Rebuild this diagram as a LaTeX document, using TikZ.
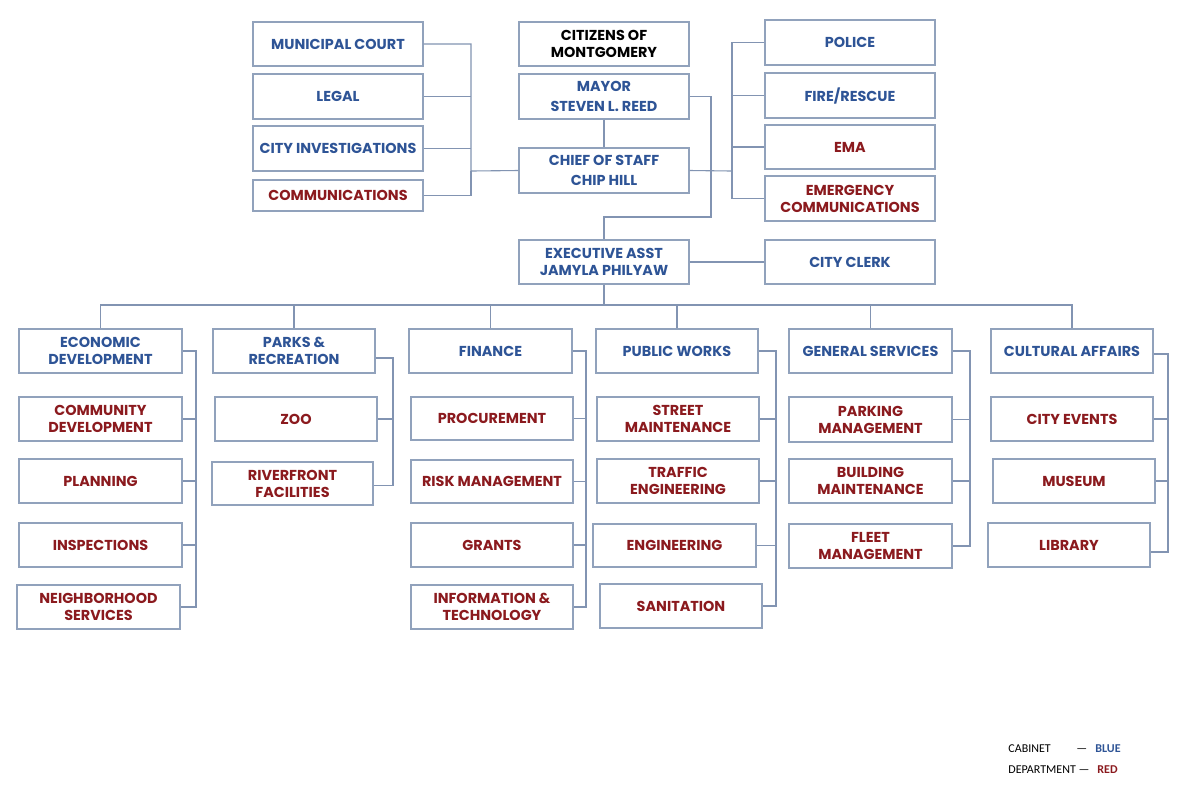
\documentclass[tikz,border=0pt]{standalone}
\usepackage{fontspec}
\setmainfont{Poppins}
\newfontfamily\legfont{Carlito}
\definecolor{cabblue}{RGB}{46,84,150}
\definecolor{depred}{RGB}{139,26,30}
\definecolor{boxline}{RGB}{145,162,188}
\definecolor{conline}{RGB}{130,148,178}
\tikzset{
  box/.style={draw=boxline,line width=0.55pt,inner sep=0pt,align=center,
    font=\bfseries\fontsize{7.2}{8.5}\selectfont},
  wide/.style={font=\bfseries\fontsize{7.2}{10}\selectfont},
  conn/.style={draw=conline,line width=0.55pt},
  leg/.style={inner sep=0pt,font=\legfont\fontsize{6}{7}\selectfont}
}
\newcommand\obox[8][]{\node[box,#1,text=#7,minimum width={(#4-#2)*0.5pt},minimum height={(#6-#3)*0.5pt}] (#5) at ({(#2+#4)/2},{(#3+#6)/2}) {#8};}
\begin{document}
\begin{tikzpicture}[x=0.5pt,y=-0.5pt]
\useasboundingbox[fill=white] (0,0) rectangle (1200,800);
% top left
\obox{253}{22}{423}{mc}{66}{cabblue}{MUNICIPAL COURT}
\obox{253}{74}{423}{legal}{119}{cabblue}{LEGAL}
\obox{253}{126}{423}{ci}{171}{cabblue}{CITY INVESTIGATIONS}
\obox{253}{180}{423}{comm}{211}{depred}{COMMUNICATIONS}
% centre
\obox{519}{22}{689}{cit}{66}{black}{CITIZENS OF\\MONTGOMERY}
\obox[wide]{519}{74}{689}{mayor}{119}{cabblue}{MAYOR\\STEVEN L. REED}
\obox[wide]{519}{148}{689}{chief}{193}{cabblue}{CHIEF OF STAFF\\CHIP HILL}
\obox{519}{240}{689}{exec}{284}{cabblue}{EXECUTIVE ASST\\JAMYLA PHILYAW}
% right
\obox{765}{20}{935}{police}{65}{cabblue}{POLICE}
\obox{765}{73}{935}{fire}{118}{cabblue}{FIRE/RESCUE}
\obox{765}{125}{935}{ema}{169}{depred}{EMA}
\obox{765}{176}{935}{ecomm}{221}{depred}{EMERGENCY\\COMMUNICATIONS}
\obox{765}{240}{935}{clerk}{284}{cabblue}{CITY CLERK}
% bottom row
\obox{19}{329}{182}{econ}{373}{cabblue}{ECONOMIC\\DEVELOPMENT}
\obox{19}{397}{182}{cd}{441}{depred}{COMMUNITY\\DEVELOPMENT}
\obox{19}{459}{182}{plan}{503}{depred}{PLANNING}
\obox{19}{523}{182}{insp}{567}{depred}{INSPECTIONS}
\obox{17}{585}{180}{ns}{629}{depred}{NEIGHBORHOOD\\SERVICES}
\obox{213}{329}{375}{parks}{373}{cabblue}{PARKS \&\\RECREATION}
\obox{215}{397}{377}{zoo}{441}{depred}{ZOO}
\obox{212}{462}{373}{river}{505}{depred}{RIVERFRONT\\FACILITIES}
\obox{409}{329}{572}{fin}{373}{cabblue}{FINANCE}
\obox{411}{397}{573}{proc}{440}{depred}{PROCUREMENT}
\obox{411}{460}{573}{risk}{503}{depred}{RISK MANAGEMENT}
\obox{411}{523}{573}{grants}{567}{depred}{GRANTS}
\obox{411}{585}{573}{it}{629}{depred}{INFORMATION \&\\TECHNOLOGY}
\obox{596}{329}{758}{pw}{373}{cabblue}{PUBLIC WORKS}
\obox{597}{397}{759}{sm}{441}{depred}{STREET\\MAINTENANCE}
\obox{597}{459}{759}{te}{503}{depred}{TRAFFIC\\ENGINEERING}
\obox{593}{524}{756}{eng}{567}{depred}{ENGINEERING}
\obox{600}{584}{762}{san}{628}{depred}{SANITATION}
\obox{789}{329}{952}{gs}{373}{cabblue}{GENERAL SERVICES}
\obox{789}{397}{952}{pm}{442}{depred}{PARKING\\MANAGEMENT}
\obox{789}{459}{952}{bm}{503}{depred}{BUILDING\\MAINTENANCE}
\obox{789}{524}{952}{fm}{568}{depred}{FLEET\\MANAGEMENT}
\obox{991}{329}{1153}{ca}{373}{cabblue}{CULTURAL AFFAIRS}
\obox{991}{397}{1153}{ce}{441}{depred}{CITY EVENTS}
\obox{993}{459}{1155}{mus}{503}{depred}{MUSEUM}
\obox{988}{523}{1150}{lib}{567}{depred}{LIBRARY}
% connectors top
\coordinate (bL) at (471,171);
\draw[conn] (mc.east) -| (bL) -- (chief.west);
\draw[conn] (comm.east) -| (bL);
\foreach \n in {legal,ci} \draw[conn] (\n.east) -- (\n.east -| bL);
\draw[conn] (mayor.south) -- (chief.north);
\coordinate (mR) at (711,217);
\draw[conn] (mayor.east) -| (mR) -| (exec.north);
\coordinate (bR) at (732,171);
\draw[conn] (chief.east) -- (bR);
\draw[conn] (police.west) -| (bR);
\draw[conn] (ecomm.west) -| (bR);
\foreach \n in {fire,ema} \draw[conn] (\n.west) -- (\n.west -| bR);
\draw[conn] (exec.east) -- (clerk.west);
\coordinate (bb) at (604,305);
\draw[conn] (exec.south) -- (bb);
\draw[conn] (econ.north) |- (bb) -| (ca.north);
\foreach \n in {parks,fin,pw,gs} \draw[conn] (\n.north) -- (\n.north |- bb);
% sub buses
\coordinate (eB) at (196,0);
\draw[conn] (econ.east) -- (econ.east -| eB) -- (ns.east -| eB) -- (ns.east);
\foreach \n in {cd,plan,insp} \draw[conn] (\n.east) -- (\n.east -| eB);
\coordinate (pB) at (393,0);
\coordinate (parksR) at ([yshift=-3.5pt]parks.east);
\coordinate (riverR) at ([yshift=-1pt]river.east);
\draw[conn] (parksR) -- (parksR -| pB) -- (riverR -| pB) -- (riverR);
\draw[conn] (zoo.east) -- (zoo.east -| pB);
\coordinate (fB) at (586,0);
\draw[conn] (fin.east) -- (fin.east -| fB) -- (it.east -| fB) -- (it.east);
\foreach \n in {proc,risk,grants} \draw[conn] (\n.east) -- (\n.east -| fB);
\coordinate (wB) at (776,0);
\draw[conn] (pw.east) -- (pw.east -| wB) -- (san.east -| wB) -- (san.east);
\foreach \n in {sm,te,eng} \draw[conn] (\n.east) -- (\n.east -| wB);
\coordinate (gB) at (970,0);
\draw[conn] (gs.east) -- (gs.east -| gB) -- (fm.east -| gB) -- (fm.east);
\foreach \n in {pm,bm} \draw[conn] (\n.east) -- (\n.east -| gB);
\coordinate (cB) at (1168,0);
\coordinate (caR) at ([yshift=-1.5pt]ca.east);
\coordinate (libR) at ([yshift=-3.5pt]lib.east);
\draw[conn] (caR) -- (caR -| cB) -- (libR -| cB) -- (libR);
\foreach \n in {ce,mus} \draw[conn] (\n.east) -- (\n.east -| cB);
% legend
\node[leg,anchor=base west] (l1) at (1008,752) {CABINET};
\node[leg,anchor=base west] (l1d) at (1076,752) {—};
\node[leg,anchor=base west,text=cabblue] (l1c) at (1095,752) {\bfseries BLUE};
\node[leg,anchor=base west] (l2) at (1008,773) {DEPARTMENT —};
\node[leg,anchor=base west,text=depred] (l2c) at (1097,773) {\bfseries RED};
\end{tikzpicture}
\end{document}
